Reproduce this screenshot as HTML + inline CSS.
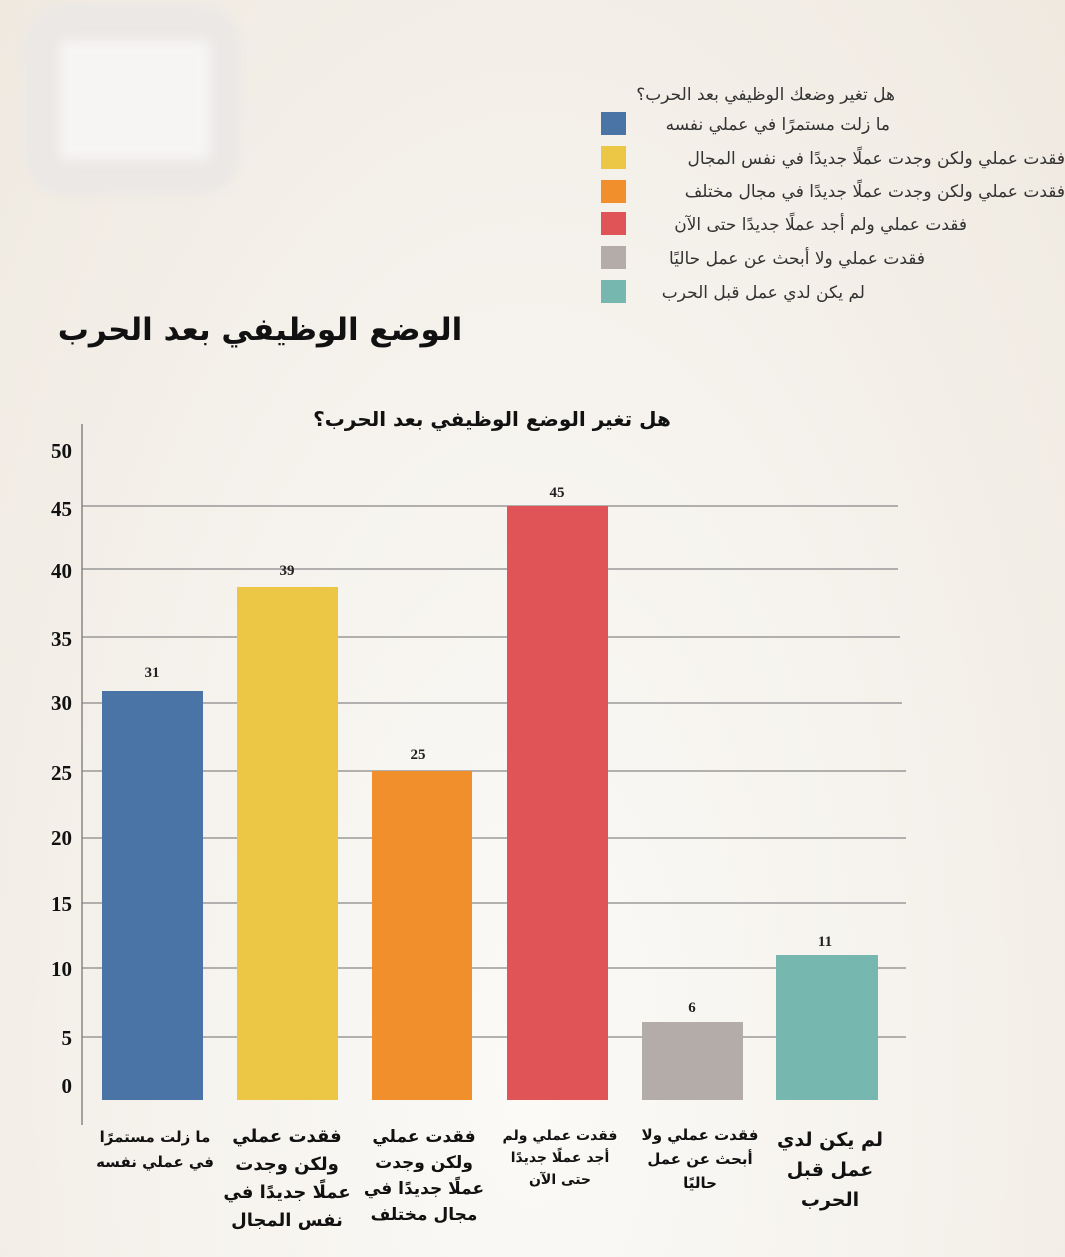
<!DOCTYPE html>
<html><head><meta charset="utf-8"><style>
body{margin:0;width:1065px;height:1257px;overflow:hidden;background:#f1ece4;font-family:"Liberation Sans","DejaVu Sans",sans-serif;}
.a{position:absolute}
</style></head><body>
<div class="a" style="left:0;top:0;width:1065px;height:1257px;background:radial-gradient(ellipse at 50% 85%,#fbfaf7 0%,#f6f3ee 45%,#efe9e0 100%)"></div>
<div class="a" style="left:25px;top:5px;width:215px;height:190px;background:#ebe8e6;border-radius:40px;filter:blur(4px)"></div>
<div class="a" style="left:60px;top:40px;width:150px;height:120px;background:#f7f5f4;filter:blur(6px)"></div>
<svg class="a" style="left:0;top:0" width="1065" height="1257">
<g stroke="#888" stroke-width="1.3">
<line x1="82" y1="506" x2="898" y2="506"/><line x1="82" y1="569" x2="898" y2="569"/><line x1="82" y1="637" x2="900" y2="637"/><line x1="82" y1="703" x2="902" y2="703"/><line x1="82" y1="771" x2="906" y2="771"/><line x1="82" y1="838" x2="906" y2="838"/><line x1="82" y1="903" x2="906" y2="903"/><line x1="82" y1="968" x2="906" y2="968"/><line x1="82" y1="1037" x2="906" y2="1037"/>
<line x1="82" y1="424" x2="82" y2="1125" stroke="#777"/>
</g>
<rect x="102" y="691" width="101" height="409" fill="#4a74a5"/>
<rect x="237" y="587" width="101" height="513" fill="#ecc745"/>
<rect x="372" y="771" width="100" height="329" fill="#f18f2c"/>
<rect x="507" y="506" width="101" height="594" fill="#e05457"/>
<rect x="642" y="1022" width="101" height="78" fill="#b4aca8"/>
<rect x="776" y="955" width="102" height="145" fill="#76b8b0"/>
<g font-family="Liberation Serif,serif" font-weight="bold" font-size="21" fill="#111" text-anchor="end">
<text x="72" y="458">50</text><text x="72" y="516">45</text><text x="72" y="578">40</text><text x="72" y="646">35</text><text x="72" y="710">30</text><text x="72" y="780">25</text><text x="72" y="845">20</text><text x="72" y="911">15</text><text x="72" y="976">10</text><text x="72" y="1045">5</text><text x="72" y="1093">0</text>
</g>
<g font-family="Liberation Serif,serif" font-weight="bold" font-size="15" fill="#222" text-anchor="middle">
<text x="152" y="677">31</text><text x="287" y="575">39</text><text x="418" y="759">25</text><text x="557" y="497">45</text><text x="692" y="1012">6</text><text x="825" y="946">11</text>
</g>
<g font-family="DejaVu Sans,sans-serif" font-weight="bold" fill="#111" text-anchor="middle" direction="rtl">
<text x="260" y="340" font-size="31">الوضع الوظيفي بعد الحرب</text>
<text x="492" y="426" font-size="20">هل تغير الوضع الوظيفي بعد الحرب؟</text>
<g font-size="15"><text x="155" y="1142">ما زلت مستمرًا</text><text x="155" y="1167">في عملي نفسه</text></g>
<g font-size="18"><text x="287" y="1142">فقدت عملي</text><text x="287" y="1170">ولكن وجدت</text><text x="287" y="1198">عملًا جديدًا في</text><text x="287" y="1226">نفس المجال</text></g>
<g font-size="17"><text x="424" y="1142">فقدت عملي</text><text x="424" y="1168">ولكن وجدت</text><text x="424" y="1194">عملًا جديدًا في</text><text x="424" y="1220">مجال مختلف</text></g>
<g font-size="14"><text x="560" y="1140">فقدت عملي ولم</text><text x="560" y="1162">أجد عملًا جديدًا</text><text x="560" y="1184">حتى الآن</text></g>
<g font-size="15"><text x="700" y="1140">فقدت عملي ولا</text><text x="700" y="1164">أبحث عن عمل</text><text x="700" y="1188">حاليًا</text></g>
<g font-size="19"><text x="830" y="1146">لم يكن لدي</text><text x="830" y="1176">عمل قبل</text><text x="830" y="1206">الحرب</text></g>
</g>
<g>
<rect x="601" y="112" width="25" height="23" fill="#4a74a5"/>
<rect x="601" y="146" width="25" height="23" fill="#ecc745"/>
<rect x="601" y="180" width="25" height="23" fill="#f18f2c"/>
<rect x="601" y="212" width="25" height="23" fill="#e05457"/>
<rect x="601" y="246" width="25" height="23" fill="#b4aca8"/>
<rect x="601" y="280" width="25" height="23" fill="#76b8b0"/>
</g>
<g font-family="DejaVu Sans,sans-serif" font-size="17" fill="#333" direction="rtl">
<text x="895" y="100" text-anchor="start">هل تغير وضعك الوظيفي بعد الحرب؟</text>
<text x="890" y="130" text-anchor="start">ما زلت مستمرًا في عملي نفسه</text>
<text x="1065" y="164" text-anchor="start">فقدت عملي ولكن وجدت عملًا جديدًا في نفس المجال</text>
<text x="1065" y="197" text-anchor="start">فقدت عملي ولكن وجدت عملًا جديدًا في مجال مختلف</text>
<text x="967" y="230" text-anchor="start">فقدت عملي ولم أجد عملًا جديدًا حتى الآن</text>
<text x="925" y="264" text-anchor="start">فقدت عملي ولا أبحث عن عمل حاليًا</text>
<text x="865" y="298" text-anchor="start">لم يكن لدي عمل قبل الحرب</text>
</g>
</svg>
</body></html>
